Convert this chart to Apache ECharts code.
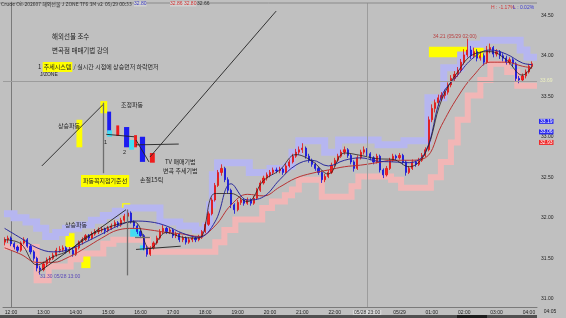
<!DOCTYPE html>
<html><head><meta charset="utf-8">
<script src="https://cdn.jsdelivr.net/npm/echarts@6/dist/echarts.min.js"></script>
<style>html,body{margin:0;padding:0;background:#c0c0c0;}#c{width:566px;height:318px;}</style>
</head><body><div id="c"></div>
<script>
// ---------- DATA (hours counted from 05/28 12:00; 12 = 05/29 00:00) ----------
const firstBarHour = -0.2;   // first bar 11:48
const barHours = 0.1;        // one bar per 6 minutes
// [open, close, low, high]
const candles = [
[31.70,31.73,31.66,31.76],[31.73,31.75,31.69,31.78],[31.75,31.68,31.65,31.77],[31.68,31.64,31.61,31.70],[31.64,31.60,31.57,31.66],
[31.60,31.69,31.58,31.71],[31.69,31.73,31.67,31.76],[31.73,31.65,31.63,31.75],[31.65,31.58,31.55,31.67],[31.58,31.50,31.47,31.60],
[31.50,31.38,31.34,31.52],[31.38,31.36,31.30,31.41],[31.36,31.43,31.34,31.46],[31.43,31.48,31.40,31.51],[31.48,31.50,31.45,31.53],
[31.50,31.54,31.48,31.57],[31.54,31.60,31.52,31.63],[31.60,31.61,31.57,31.65],[31.61,31.63,31.58,31.66],[31.63,31.59,31.56,31.65],
[31.59,31.60,31.56,31.64],[31.60,31.55,31.52,31.62],[31.55,31.63,31.53,31.65],[31.63,31.70,31.61,31.72],[31.70,31.73,31.67,31.76],
[31.73,31.78,31.71,31.80],[31.78,31.75,31.72,31.80],[31.75,31.80,31.73,31.83],[31.80,31.83,31.78,31.86],[31.83,31.85,31.80,31.88],
[31.85,31.86,31.82,31.89],[31.86,31.84,31.80,31.88],[31.84,31.87,31.82,31.90],[31.87,31.90,31.85,31.93],[31.90,31.94,31.88,31.97],
[31.94,31.91,31.88,31.96],[31.91,31.97,31.89,32.00],[31.97,32.02,31.95,32.05],[32.02,32.06,32.00,32.10],[32.06,31.95,31.93,32.08],
[31.95,31.90,31.87,31.97],[31.90,31.83,31.80,31.92],[31.83,31.78,31.75,31.85],[31.78,31.63,31.60,31.80],[31.63,31.55,31.52,31.65],
[31.55,31.63,31.53,31.65],[31.63,31.69,31.61,31.71],[31.69,31.75,31.67,31.78],[31.75,31.83,31.73,31.86],[31.83,31.87,31.80,31.91],
[31.87,31.83,31.80,31.89],[31.83,31.85,31.80,31.88],[31.85,31.78,31.75,31.87],[31.78,31.80,31.75,31.83],[31.80,31.73,31.70,31.82],
[31.73,31.75,31.70,31.78],[31.75,31.70,31.67,31.77],[31.70,31.73,31.68,31.76],[31.73,31.75,31.70,31.78],[31.75,31.73,31.70,31.77],
[31.73,31.76,31.71,31.79],[31.76,31.83,31.74,31.85],[31.83,31.92,31.81,31.95],[31.92,32.05,31.90,32.08],[32.05,32.22,32.03,32.25],
[32.22,32.40,32.20,32.43],[32.40,32.56,32.38,32.59],[32.56,32.61,32.52,32.66],[32.61,32.47,32.44,32.63],[32.47,32.34,32.30,32.50],
[32.34,32.16,32.12,32.36],[32.16,32.10,32.05,32.18],[32.10,32.19,32.08,32.22],[32.19,32.22,32.16,32.25],[32.22,32.18,32.15,32.24],
[32.18,32.22,32.16,32.25],[32.22,32.18,32.15,32.24],[32.18,32.24,32.16,32.27],[32.24,32.34,32.22,32.37],[32.34,32.43,32.32,32.46],
[32.43,32.49,32.41,32.52],[32.49,32.53,32.46,32.56],[32.53,32.56,32.50,32.59],[32.56,32.59,32.53,32.62],[32.59,32.58,32.55,32.62],
[32.58,32.60,32.55,32.63],[32.60,32.56,32.53,32.62],[32.56,32.64,32.54,32.67],[32.64,32.69,32.62,32.72],[32.69,32.76,32.67,32.79],
[32.76,32.81,32.74,32.85],[32.81,32.84,32.78,32.88],[32.84,32.86,32.80,32.92],[32.86,32.76,32.73,32.88],[32.76,32.71,32.68,32.79],
[32.71,32.66,32.63,32.73],[32.66,32.61,32.58,32.68],[32.61,32.56,32.53,32.63],[32.56,32.47,32.43,32.58],[32.47,32.51,32.44,32.54],
[32.51,32.56,32.49,32.59],[32.56,32.65,32.54,32.68],[32.65,32.71,32.63,32.74],[32.71,32.76,32.69,32.79],[32.76,32.81,32.74,32.84],
[32.81,32.84,32.78,32.88],[32.84,32.77,32.74,32.86],[32.77,32.69,32.66,32.79],[32.69,32.61,32.57,32.71],[32.61,32.74,32.59,32.77],
[32.74,32.81,32.72,32.84],[32.81,32.84,32.78,32.88],[32.84,32.79,32.76,32.86],[32.79,32.74,32.71,32.81],[32.74,32.69,32.66,32.76],
[32.69,32.76,32.67,32.79],[32.76,32.59,32.56,32.78],[32.59,32.53,32.49,32.61],[32.53,32.61,32.51,32.64],[32.61,32.71,32.59,32.74],
[32.71,32.76,32.69,32.79],[32.76,32.74,32.71,32.78],[32.74,32.77,32.72,32.80],[32.77,32.69,32.66,32.79],[32.69,32.56,32.52,32.71],
[32.56,32.61,32.54,32.64],[32.61,32.69,32.59,32.72],[32.69,32.66,32.63,32.71],[32.66,32.71,32.64,32.74],[32.71,32.77,32.69,32.80],
[32.77,32.84,32.75,32.87],[32.84,33.21,32.82,33.25],[33.21,33.35,33.18,33.40],[33.35,33.42,33.30,33.46],[33.42,33.48,33.38,33.52],
[33.48,33.51,33.44,33.55],[33.51,33.55,33.47,33.58],[33.55,33.64,33.52,33.67],[33.64,33.72,33.61,33.76],[33.72,33.77,33.68,33.81],
[33.77,33.82,33.74,33.86],[33.82,33.92,33.79,33.96],[33.92,34.01,33.89,34.08],[34.01,34.07,33.98,34.21],[34.07,34.00,33.96,34.12],
[34.00,34.05,33.97,34.10],[34.05,33.97,33.93,34.08],[33.97,34.00,33.94,34.05],[34.00,33.92,33.88,34.03],[33.92,34.07,33.90,34.12],
[34.07,34.10,34.03,34.15],[34.10,34.02,33.98,34.12],[34.02,34.05,33.99,34.08],[34.05,34.00,33.96,34.07],[34.00,33.97,33.93,34.03],
[33.97,33.92,33.89,34.00],[33.92,33.95,33.89,33.98],[33.95,33.90,33.86,33.97],[33.90,33.72,33.68,33.92],[33.72,33.70,33.66,33.75],
[33.70,33.75,33.68,33.78],[33.75,33.80,33.72,33.83],[33.80,33.87,33.78,33.90],[33.87,33.90,33.84,33.93]
];
const maHours = [-0.2,0.3,0.8,1.3,1.8,2.3,2.8,3.3,3.8,4.3,4.8,5.3,5.8,6.3,6.8,7.3,7.8,8.3,8.8,9.3,9.8,10.3,10.8,11.3,11.8,12.3,12.8,13.3,13.8,14.3,14.8,15.3,15.8,16.1];
const maFast = [31.73,31.68,31.42,31.52,31.60,31.76,31.85,31.92,31.95,31.62,31.82,31.76,31.75,32.30,32.30,32.20,32.46,32.59,32.78,32.70,32.54,32.80,32.77,32.73,32.72,32.63,32.80,33.45,33.80,34.02,34.05,33.95,33.76,33.87];
const maMid  = [31.87,31.75,31.63,31.58,31.61,31.70,31.80,31.90,31.96,31.95,31.90,31.81,31.76,31.95,32.42,32.22,32.26,32.47,32.65,32.71,32.64,32.71,32.74,32.70,32.69,32.68,32.81,33.50,33.76,33.98,34.07,34.02,33.91,33.89];
const maSlow = [31.63,31.55,31.45,31.45,31.52,31.63,31.75,31.85,31.87,31.85,31.82,31.80,31.77,31.90,32.16,32.29,32.27,32.38,32.49,32.55,32.59,32.63,32.65,32.68,32.71,32.71,32.74,33.14,33.49,33.76,33.92,33.92,33.87,33.85];
const upperBandHours = [-0.22,0.09,0.46,0.79,1.07,1.38,1.68,2.08,2.48,2.85,3.22,3.58,4.60,5.21,5.70,6.01,6.13,6.22,6.38,7.36,8.00,8.52,8.68,8.89,9.69,10.12,11.34,12.14,12.88,13.37,13.89,14.20,14.60,15.73,15.94,16.25];
const upperBand = [32.05,32.00,31.95,31.87,31.77,31.82,31.87,31.91,31.97,32.03,32.08,32.12,31.95,31.90,31.85,31.90,32.16,32.53,32.68,32.56,32.61,32.64,32.81,32.95,32.81,32.96,32.90,32.95,33.48,33.85,34.01,34.14,34.19,34.07,33.98,33.98];
const lowerBandHours = [-0.22,0.79,1.16,1.84,2.14,2.85,3.16,4.23,6.31,6.59,6.93,7.76,8.06,8.46,8.68,8.89,9.60,10.52,10.73,11.74,12.05,12.97,13.28,13.59,13.80,14.11,14.50,14.81,15.33,15.64,16.25];
const lowerBand = [31.64,31.23,31.40,31.49,31.56,31.68,31.73,31.58,31.70,31.85,31.98,32.12,32.20,32.28,32.35,32.47,32.26,32.39,32.51,32.47,32.37,32.50,32.69,32.93,33.21,33.51,33.70,33.90,33.80,33.63,33.63];
const xTickLabels = ['12:00','13:00','14:00','15:00','16:00','17:00','18:00','19:00','20:00','21:00','22:00','23:00','05/29','01:00','02:00','03:00','04:00'];
const yTickLabels = ['31.00','31.50','32.00','32.50','33.00','33.50','34.00','34.50'];
// annotations in data coordinates [hour1, price1, hour2, price2]
const yellowBoxes = [[2.02,33.21,2.20,32.87],[2.76,33.44,2.97,33.29],[1.68,31.81,1.96,31.64],[2.17,31.57,2.45,31.38],[3.43,32.18,3.68,32.07],[12.91,34.11,14.60,33.98]];
const blueBars = [[2.97,33.31,3.09,33.05],[3.49,33.12,3.65,32.87],[3.98,33.00,4.14,32.69]];
const redBars = [[3.25,33.14,3.34,33.01],[3.80,33.02,3.89,32.87],[4.29,32.80,4.44,32.68]];
const cyanBoxes = [[2.97,33.08,3.12,33.00],[3.65,32.96,3.80,32.84],[3.68,31.86,3.98,31.75],[3.98,31.66,4.14,31.60]];
const blackLines = [[0.95,32.64,2.85,33.40],[4.29,32.75,8.19,34.55],[0.85,31.33,3.55,32.10],[2.94,33.03,3.80,33.00],[3.86,32.90,5.18,32.91],[3.86,32.96,4.26,32.69],[3.86,31.61,5.24,31.65]];
const grayLines = [[2.86,33.42,2.86,32.55],[3.58,32.10,3.58,31.29],[3.83,31.76,4.29,31.76]];
const sideValues = [['33.19',33.19,'#2a2af0'],['33.06',33.06,'#2a2af0'],['32.93',32.93,'#f02a2a']];
const crossHour = 11, crossPrice = 33.69;

// ---------- CHART ----------
const chart = echarts.init(document.getElementById('c'));
const candleData = candles.map((c, i) => [+(firstBarHour + barHours * i).toFixed(2), c[0], c[1], c[2], c[3]]);
const pairs = (hs, vs) => hs.map((h, i) => [h, vs[i]]);
const areaItems = (list, color) => list.map(b => [{coord:[b[0],b[1]], itemStyle:{color:color}}, {coord:[b[2],b[3]]}]);
const lineItems = (list) => list.map(l => [{coord:[l[0],l[1]]}, {coord:[l[2],l[3]]}]);
const KR = '"Noto Sans CJK KR", sans-serif';
const LAT = '"Liberation Sans", Arial, sans-serif';
const txt = (x, y, text, extra) => ({type: 'text', x: x, y: y, z: 100, zlevel: 0, silent: true,
  style: Object.assign({text: text, fontSize: 6, fontFamily: KR, fill: '#222', verticalAlign: 'middle'}, extra || {})});

const option = {
  backgroundColor: '#c0c0c0',
  animation: false,
  grid: {left: -1, right: 29, top: 3, bottom: 11},
  xAxis: {
    type: 'value', min: -0.25, max: 16.25, interval: 0.25,
    axisLine: {lineStyle: {color: '#7a7a7a'}}, axisTick: {show: false}, splitLine: {show: false},
    axisLabel: {fontSize: 5, color: '#222', margin: 3, fontFamily: LAT,
      formatter: v => { const r = Math.round(v); if (Math.abs(v - r) > 1e-6 || r < 0 || r >= xTickLabels.length) return ''; return r === crossHour ? '{hl|05/28 ' + xTickLabels[r] + '}' : xTickLabels[r]; },
      rich: {hl: {backgroundColor: '#d8d8d8', fontSize: 5, color: '#333', padding: [0, 1], fontFamily: LAT}}}
  },
  yAxis: {
    type: 'value', position: 'right', min: 30.90, max: 34.65, interval: 0.05,
    axisLine: {show: true, lineStyle: {color: '#7a7a7a'}}, axisTick: {show: false}, splitLine: {show: false},
    axisLabel: {fontSize: 5, color: '#222', margin: 4, fontFamily: LAT,
      formatter: v => { const s = v.toFixed(2); return yTickLabels.includes(s) ? s : ''; }}
  },
  series: [
    {type: 'line', name: 'upper', step: 'end', data: pairs(upperBandHours, upperBand), showSymbol: false, symbol: 'none', z: 1,
     lineStyle: {color: '#b6b6f0', width: 7, cap: 'butt', join: 'miter'}, silent: true},
    {type: 'line', name: 'lower', step: 'end', data: pairs(lowerBandHours, lowerBand), showSymbol: false, symbol: 'none', z: 1,
     lineStyle: {color: '#f2b6b6', width: 6, cap: 'butt', join: 'miter'}, silent: true},
    {type: 'line', name: 'cross', data: [], z: 1, silent: true,
     markLine: {symbol: ['none','none'], silent: true, animation: false,
       lineStyle: {color: '#9c9c9c', width: 1, type: 'solid'},
       data: [{xAxis: crossHour, label: {show: false}},
              {yAxis: crossPrice, label: {show: true, position: 'end', distance: 3, formatter: crossPrice.toFixed(2), color: '#eef2c0', fontSize: 5, fontFamily: LAT}}]}},
    {type: 'candlestick', name: 'price', data: candleData, encode: {x: 0, y: [1,2,3,4]}, barMaxWidth: 2.2, z: 3,
     itemStyle: {color: '#ff1e1e', color0: '#1e1eff', borderColor: '#e01010', borderColor0: '#1010d8', borderWidth: 0.8}, silent: true},
    {type: 'line', name: 'slow', data: pairs(maHours, maSlow), smooth: 0.4, symbol: 'none', z: 4, lineStyle: {color: '#b83232', width: 1}, silent: true},
    {type: 'line', name: 'mid', data: pairs(maHours, maMid), smooth: 0.4, symbol: 'none', z: 4, lineStyle: {color: '#2a2a9c', width: 1}, silent: true},
    {type: 'line', name: 'fast', data: pairs(maHours, maFast), smooth: 0.4, symbol: 'none', z: 4, lineStyle: {color: '#2a2020', width: 0.8}, silent: true},
    {type: 'line', name: 'notes', data: [], z: 6, silent: true,
     markArea: {silent: true, animation: false, data: [].concat(areaItems(yellowBoxes, '#ffff00'), areaItems(blueBars, '#1c1cf0'), areaItems(redBars, '#f01c1c'), areaItems(cyanBoxes, '#44dcf0'))},
     markLine: {symbol: ['none','none'], silent: true, animation: false, label: {show: false},
       data: [].concat(lineItems(blackLines).map(d => { d[0].lineStyle = {color: '#222', width: 0.9, type: 'solid'}; return d; }),
                       lineItems(grayLines).map(d => { d[0].lineStyle = {color: '#6e6e6e', width: 1.3, type: 'solid'}; return d; }))}},
    {type: 'line', name: 'side', data: [], z: 6, silent: true,
     markLine: {symbol: ['none','none'], silent: true, animation: false, lineStyle: {color: 'rgba(0,0,0,0)', width: 0},
       data: sideValues.map(s => ({yAxis: s[1], label: {show: true, position: 'end', distance: 2, formatter: s[0], color: '#fff', fontSize: 5, fontFamily: LAT, backgroundColor: s[2], padding: [0, 1]}}))}}
  ],
  graphic: [
    {type: 'rect', shape: {x: 0, y: 315, width: 537, height: 3}, style: {fill: '#505050'}, silent: true, z: 100},
    {type: 'rect', shape: {x: 457, y: 315, width: 30, height: 3}, style: {fill: '#1c1c1c'}, silent: true, z: 100},
    {type: 'line', shape: {x1: 0, y1: 3, x2: 537, y2: 3}, style: {stroke: '#8a8a8a', lineWidth: 1}, silent: true, z: 100},
    txt(1, 4, 'Crude Oil-202607 해외선물 J ZONE TF6 3M v2  05/29 00:33', {fontSize: 5, fill: '#333'}),
    txt(134, 4, '32.80', {fontSize: 5, fontFamily: LAT, fill: '#3a3ac0', backgroundColor: '#d2d2d2'}),
    txt(170, 4, '32.86 32.80', {fontSize: 5, fontFamily: LAT, fill: '#d03030', backgroundColor: '#d2d2d2'}),
    txt(197, 4, '32.66', {fontSize: 5, fontFamily: LAT, fill: '#333'}),
    txt(491, 8, 'H : -1.17%', {fontSize: 5, fontFamily: LAT, fill: '#d03a3a'}),
    txt(513, 8, 'L : 0.02%', {fontSize: 5, fontFamily: LAT, fill: '#3a3ad0'}),
    txt(52, 37, '해외선물 조수', {fontSize: 6.5}),
    txt(52, 51, '변곡점 매매기법 강의', {fontSize: 6.5}),
    txt(38, 67, '1 {hl|추세시스템} / 실시간 시점에 상승먼저 하락먼저', {rich: {hl: {backgroundColor: '#ffff00', fontSize: 6, fontFamily: KR, fill: '#222', padding: [2, 1]}}}),
    txt(40, 75, 'J/ZONE', {fontSize: 5, fontFamily: LAT}),
    txt(58, 126, '상승파동'),
    txt(121, 105, '조정파동'),
    txt(104, 142, '1', {fontSize: 5.5, fontFamily: LAT}),
    txt(123, 152, '2', {fontSize: 5.5, fontFamily: LAT}),
    txt(165, 162, 'TV 매매기법'),
    txt(163, 171, '변곡 추세기법'),
    txt(81, 181, '파동꼭지점기준선', {backgroundColor: '#ffff00', padding: [3, 2]}),
    txt(140, 180, '손절15틱'),
    txt(65, 225, '상승파동'),
    txt(40, 277, '31.30 05/28 13:00', {fontSize: 5, fontFamily: LAT, fill: '#5a4ab8'}),
    txt(433, 37, '34.21 (05/29 02:00)', {fontSize: 5, fontFamily: LAT, fill: '#b84040'}),
    txt(550, 312, '04:05', {fontSize: 5, fontFamily: LAT, align: 'center'})
  ]
};
chart.setOption(option);
</script>
</body></html>
